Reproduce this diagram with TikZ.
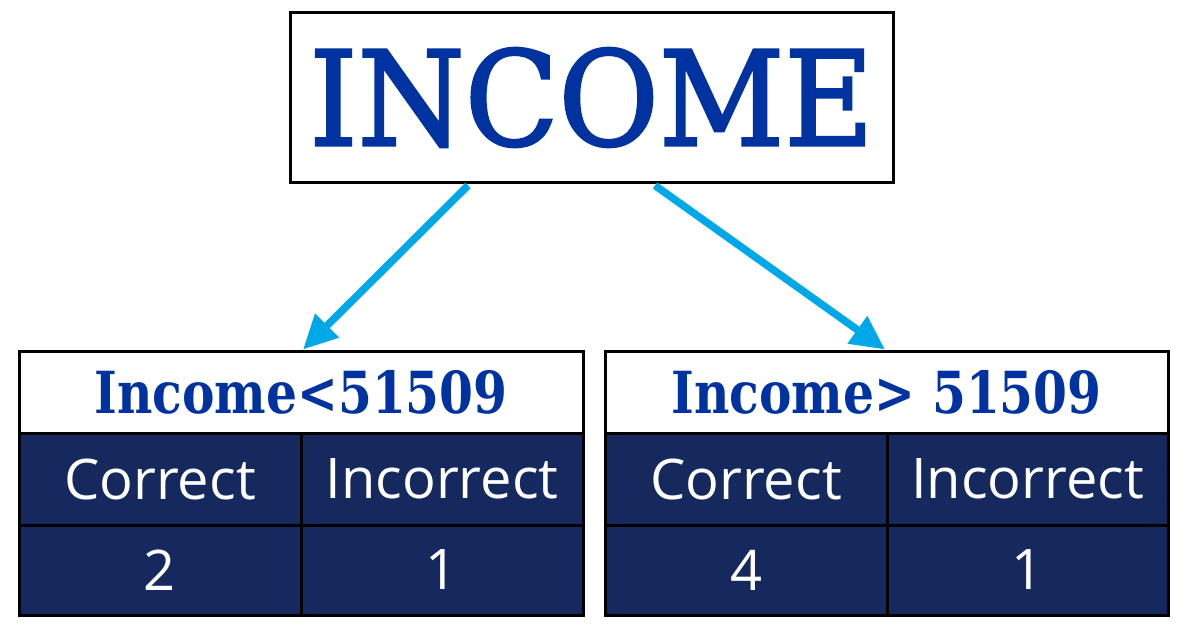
\documentclass[tikz,border=0pt]{standalone}
\usepackage{fontspec}
\setmainfont{DejaVu Serif}
\setsansfont{Open Sans}
\newfontfamily\incfont{DejaVu Serif}[FakeBold=2]
\usetikzlibrary{arrows.meta}
\definecolor{incblue}{RGB}{0,51,160}
\definecolor{navy}{RGB}{22,41,94}
\definecolor{arrowcyan}{RGB}{0,168,232}
\tikzset{
  rootbox/.style={draw=black, line width=3pt, fill=white, text=incblue, inner sep=0pt,
    minimum width=603pt, minimum height=169pt,
    font=\incfont\fontsize{131}{131}\selectfont},
  headbox/.style={draw=black, line width=3pt, fill=white, text=incblue, inner sep=0pt,
    minimum height=82pt, font=\bfseries\fontsize{58}{58}\selectfont},
  cellbox/.style={draw=black, line width=3pt, fill=navy, text=white, inner sep=0pt,
    text depth=0pt, font=\sffamily\fontsize{56}{56}\selectfont},
  conn/.style={draw=arrowcyan, line width=7.5pt, -{Triangle[length=34pt,width=32pt]}}
}
\begin{document}
\begin{tikzpicture}[x=1pt,y=-1pt]
\useasboundingbox (0,0) rectangle (1188,626);
\node[rootbox] (root) at (591.5,97.5) {\scalebox{0.935}[1]{INCOME}};
% left table
\node[headbox, minimum width=564pt] (lh) at (301,392) {\scalebox{0.84}[1]{Income<51509}};
\node[cellbox, minimum width=282pt, minimum height=92pt] (lc1) at (160,479) {Correct};
\node[cellbox, minimum width=282pt, minimum height=92pt] (lc2) at (442,479) {Incorrect};
\node[cellbox, minimum width=282pt, minimum height=90pt] (lv1) at (160,570) {2};
\node[cellbox, minimum width=282pt, minimum height=90pt] (lv2) at (442,570) {1};
% right table
\node[headbox, minimum width=563pt] (rh) at (886.5,392) {\scalebox{0.84}[1]{Income> 51509}};
\node[cellbox, minimum width=282pt, minimum height=92pt] (rc1) at (746,479) {Correct};
\node[cellbox, minimum width=281pt, minimum height=92pt] (rc2) at (1027.5,479) {Incorrect};
\node[cellbox, minimum width=282pt, minimum height=90pt] (rv1) at (746,570) {4};
\node[cellbox, minimum width=281pt, minimum height=90pt] (rv2) at (1027.5,570) {1};
% connectors
\draw[conn] ([xshift=-123.5pt,yshift=-2pt]root.south) -- ([xshift=2pt]lh.north);
\draw[conn] ([xshift=63.5pt,yshift=-2pt]root.south) -- ([xshift=-1.5pt]rh.north);
\end{tikzpicture}
\end{document}
